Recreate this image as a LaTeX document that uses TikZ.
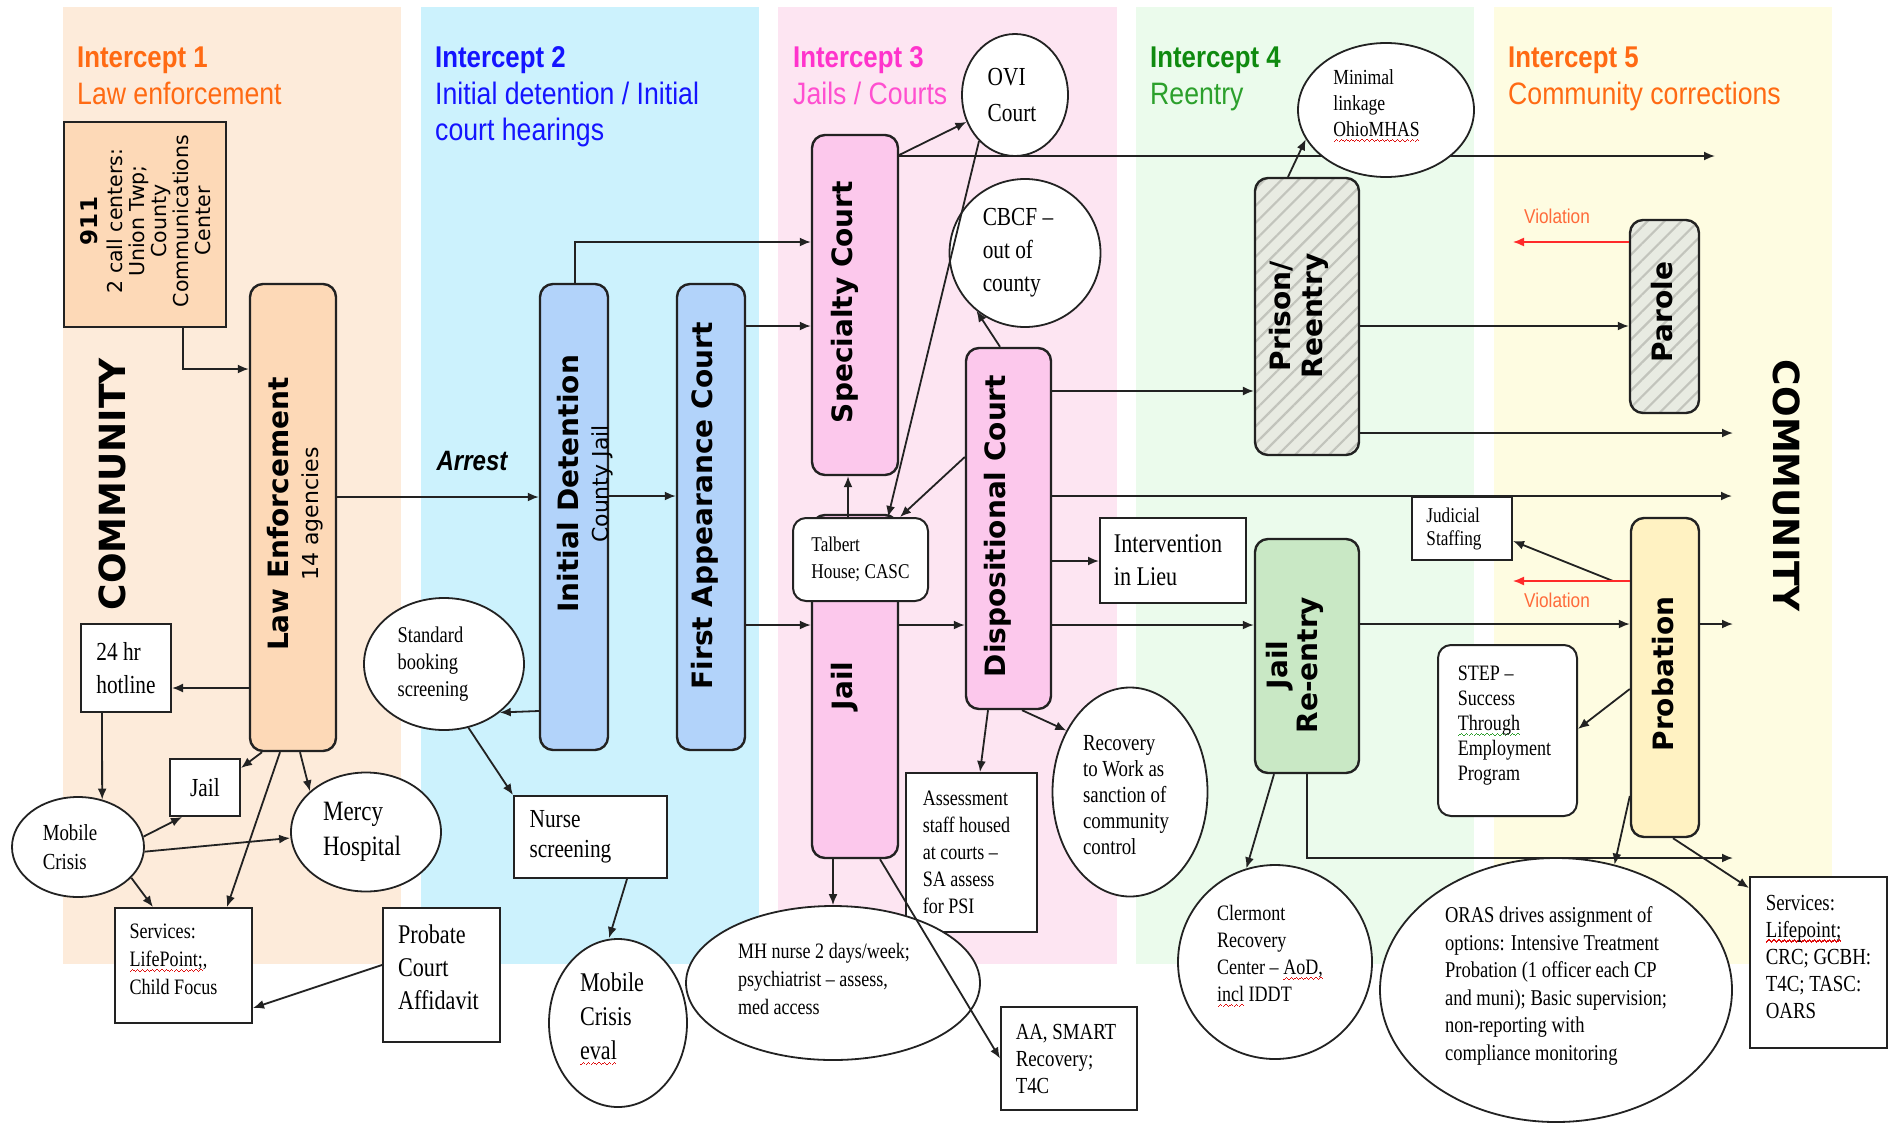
\documentclass[tikz,border=0pt]{standalone}
\usepackage{fontspec}
\usetikzlibrary{shapes.geometric,arrows.meta,patterns.meta}
\newfontfamily\srf{Liberation Serif}[FakeStretch=0.82]
\newfontfamily\hdr{Liberation Sans}[FakeStretch=0.86]
\newfontfamily\bxf{DejaVu Sans}
\pgfdeclarelayer{bg}
\pgfsetlayers{bg,main}

\definecolor{band1}{HTML}{FDEBDA}
\definecolor{band2}{HTML}{CCF2FD}
\definecolor{band3}{HTML}{FDE5F2}
\definecolor{band4}{HTML}{EBFBEC}
\definecolor{band5}{HTML}{FEFCE1}
\definecolor{peach}{HTML}{FDD9B7}
\definecolor{bluebox}{HTML}{B2D3FA}
\definecolor{pinkbox}{HTML}{FCC8EC}
\definecolor{greenbox}{HTML}{C9E8C5}
\definecolor{yellowbox}{HTML}{FFF2C2}
\definecolor{hatchbg}{HTML}{E8EBE2}
\definecolor{hatchln}{HTML}{C2C4BC}
\definecolor{c1}{HTML}{FF6A13}
\definecolor{c2}{HTML}{1414FF}
\definecolor{c3}{HTML}{FF33CC}
\definecolor{c3b}{HTML}{FF4FD0}
\definecolor{c4}{HTML}{0F8A0F}
\definecolor{c4b}{HTML}{2CA02C}
\definecolor{violc}{HTML}{FF6A3A}
\definecolor{warnred}{HTML}{FF2A2A}
\definecolor{linec}{HTML}{222222}
\definecolor{spellred}{HTML}{E01010}
\definecolor{spellgreen}{HTML}{2E9E2E}

% wavy spell-check underline under a word, built from small rule steps
\newcommand\wavestep{\rule[0pt]{1.2pt}{1.2pt}\rule[1pt]{1.2pt}{1.2pt}\rule[2pt]{1.2pt}{1.2pt}\rule[1pt]{1.2pt}{1.2pt}}
\newcommand\wavy[2]{\setbox0\hbox{#2}\leavevmode\rlap{\raisebox{-5.5pt}{\color{#1}\hbox to\wd0{\xleaders\hbox{\wavestep}\hfill}}}\box0\relax}
\newcommand\redwave[1]{\wavy{spellred}{#1}}
\newcommand\greenwave[1]{\wavy{spellgreen}{#1}}

\tikzset{
  hd/.style={anchor=base west, inner sep=0},
  box/.style={draw=linec, line width=2pt, rectangle, inner sep=0, fill=white},
  rbox/.style={box, rounded corners=13pt, line width=2.4pt},
  bubble/.style={draw=linec, line width=1.8pt, ellipse, inner sep=0, fill=white},
  hatched/.style={preaction={fill=hatchbg}, pattern={Lines[angle=45,distance=12pt,line width=2.2pt]}, pattern color=hatchln},
  conn/.style={draw=linec, line width=1.8pt, -{Latex[length=11pt,width=9pt]}},
  warn/.style={draw=warnred, line width=1.4pt, -{Latex[length=11pt,width=9pt]}},
  ser/.style 2 args={align=left, inner sep=0, font=\srf\fontsize{#1}{#2}\selectfont},
  vt/.style={rotate=90, align=center, inner sep=0, font=\bxf\bfseries\fontsize{28}{30}\selectfont},
  t1/.style={hd, font=\hdr\bfseries\fontsize{30}{36}\selectfont},
  t2/.style={hd, font=\hdr\fontsize{31}{37}\selectfont},
}

\begin{document}
\begin{tikzpicture}[x=1pt,y=-1pt]
\useasboundingbox (0,0) rectangle (1895,1122);

% intercept bands
\begin{pgfonlayer}{bg}
\fill[white] (0,0) rectangle (1895,1122);
\fill[band1] (63,7) rectangle (401,964);
\fill[band2] (421,7) rectangle (759,964);
\fill[band3] (778,7) rectangle (1117,964);
\fill[band4] (1136,7) rectangle (1474,964);
\fill[band5] (1494,7) rectangle (1832,964);
\end{pgfonlayer}

% headings
\node[t1, text=c1] (h1) at (77,67) {Intercept 1};
\node[t2, text=c1] (s1) at (77,104) {Law enforcement};
\node[t1, text=c2] (h2) at (435,67) {Intercept 2};
\node[t2, text=c2] (s2) at (435,104) {Initial detention / Initial};
\node[t2, text=c2] (s2b) at (435,140) {court hearings};
\node[t1, text=c3] (h3) at (793,67) {Intercept 3};
\node[t2, text=c3b] (s3) at (793,104) {Jails / Courts};
\node[t1, text=c4] (h4) at (1150,67) {Intercept 4};
\node[t2, text=c4b] (s4) at (1150,104) {Reentry};
\node[t1, text=c1] (h5) at (1508,67) {Intercept 5};
\node[t2, text=c1] (s5) at (1508,104) {Community corrections};

% side labels
\node[rotate=90, inner sep=0, font=\bxf\bfseries\fontsize{36}{40}\selectfont] (commL) at (112,484) {COMMUNITY};
\node[rotate=-90, inner sep=0, font=\bxf\bfseries\fontsize{36}{40}\selectfont] (commR) at (1787,486) {COMMUNITY};

% ---- Intercept 1
\node[box, fill=peach, minimum width=162pt, minimum height=205pt] (call) at (145,224.5) {};
\node[rotate=90, align=center, inner sep=0, font=\bxf\fontsize{20.5}{22}\selectfont] (callT) at (146,221)
  {{\bfseries\fontsize{23}{26}\selectfont 911}\\[3pt]2 call centers:\\Union Twp;\\County\\Communications\\Center};
\node[rbox, fill=peach, minimum width=86pt, minimum height=467pt] (le) at (293,517.5) {};
\node[vt] (leT) at (295,514) {Law Enforcement\\{\mdseries\fontsize{22}{30}\selectfont 14 agencies}};
\node[box, minimum width=90pt, minimum height=88pt, label={[ser={26}{33}]center:{24 hr\\hotline}}] (hot) at (126,668) {};
\node[bubble, minimum width=132pt, minimum height=100pt, label={[ser={23}{29}, xshift=-8pt]center:{Mobile\\Crisis}}] (mc) at (78,847) {};
\node[box, minimum width=70pt, minimum height=57pt, label={[ser={26}{30}]center:{Jail}}] (jail1) at (205,787.5) {};
\node[bubble, minimum width=150pt, minimum height=119pt, label={[ser={28}{35}, xshift=-4pt]center:{Mercy\\Hospital}}] (mercy) at (366,832) {};
\node[box, minimum width=137pt, minimum height=115pt, label={[ser={22}{28}, xshift=-10pt, yshift=6pt]center:{Services:\\\redwave{LifePoint;}\greenwave{,}\\Child Focus}}] (svc1) at (183.5,965.5) {};
\node[box, minimum width=117pt, minimum height=134pt, label={[ser={27}{33}, xshift=-3pt, yshift=8pt]center:{Probate\\Court\\Affidavit}}] (probate) at (441.5,975) {};

% ---- Intercept 2
\node[inner sep=0, font=\hdr\bfseries\itshape\fontsize{28}{30}\selectfont] (arrest) at (472,461) {Arrest};
\node[rbox, fill=bluebox, minimum width=68pt, minimum height=466pt] (idet) at (574,517) {};
\node[vt] (idetT) at (585,484) {Initial Detention\\{\mdseries\fontsize{22}{30}\selectfont County Jail}};
\node[rbox, fill=bluebox, minimum width=68pt, minimum height=466pt] (fac) at (711,517) {};
\node[vt] (facT) at (705,506) {First Appearance Court};
\node[bubble, minimum width=160pt, minimum height=132pt, label={[ser={22.5}{27}, xshift=-11pt]center:{Standard\\booking\\screening}}] (sbs) at (444,664) {};
\node[box, minimum width=153pt, minimum height=82pt, label={[ser={26}{30}, xshift=-20pt]center:{Nurse\\screening}}] (nurse) at (590.5,837) {};
\node[bubble, minimum width=138pt, minimum height=168pt, label={[ser={27}{34}, xshift=-6pt, yshift=4pt]center:{Mobile\\Crisis\\\redwave{eval}}}] (mce) at (618,1023) {};

% ---- Intercept 3
\node[rbox, fill=pinkbox, minimum width=86pt, minimum height=340pt] (spec) at (855,305) {};
\node[vt] (specT) at (845,302) {Specialty Court};
\node[bubble, minimum width=106pt, minimum height=122pt, label={[ser={26}{36}, xshift=-3pt]center:{OVI\\Court}}] (ovi) at (1015,95) {};
\node[bubble, minimum width=151pt, minimum height=148pt, label={[ser={26}{33}, xshift=-7pt]center:{CBCF –\\out of\\county}}] (cbcf) at (1025,253) {};
\node[rbox, fill=pinkbox, minimum width=86pt, minimum height=343pt] (jail3) at (855,686.5) {};
\node[vt] (jail3T) at (845,686) {Jail};
\node[rbox, line width=2pt, minimum width=135pt, minimum height=83pt, label={[ser={21}{27}]center:{Talbert\\House; CASC}}] (talb) at (860.5,559.5) {};
\node[rbox, fill=pinkbox, minimum width=85pt, minimum height=361pt] (disp) at (1008.5,528.5) {};
\node[vt] (dispT) at (998,526) {Dispositional Court};
\node[box, minimum width=146pt, minimum height=85pt, label={[ser={27}{33}, xshift=-5pt]center:{Intervention\\in Lieu}}] (iil) at (1173,560.5) {};
\node[box, minimum width=131pt, minimum height=159pt, label={[ser={22}{27}, xshift=-5pt]center:{Assessment\\staff housed\\at courts –\\SA assess\\for PSI}}] (assess) at (971.5,852.5) {};
\node[bubble, minimum width=294pt, minimum height=154pt, label={[ser={22}{28}, xshift=-9pt, yshift=4pt]center:{MH nurse 2 days/week;\\psychiatrist – assess,\\med access}}] (mh) at (833,983) {};
\node[bubble, minimum width=155pt, minimum height=209pt, label={[ser={23}{26}, xshift=-4pt, yshift=-3pt]center:{Recovery\\to Work as\\sanction of\\community\\control}}] (rtw) at (1130,792) {};
\node[box, minimum width=136pt, minimum height=103pt, label={[ser={23}{27}, xshift=-3pt]center:{AA, SMART\\Recovery;\\T4C}}] (aa) at (1069,1058.5) {};

% ---- Intercept 4
\node[bubble, minimum width=176pt, minimum height=134pt, label={[ser={21.5}{26}, xshift=-9.5pt, yshift=4pt]center:{Minimal\\linkage\\\redwave{OhioMHAS}}}] (mini) at (1386,110) {};
\node[rbox, hatched, minimum width=104pt, minimum height=277pt] (prison) at (1307,316.5) {};
\node[vt, font=\bxf\bfseries\fontsize{28}{32}\selectfont] (prisonT) at (1299,316) {Prison/\\Reentry};
\node[box, minimum width=100pt, minimum height=63pt, label={[ser={21}{23}, xshift=-8pt]center:{Judicial\\Staffing}}] (jud) at (1462,528.5) {};
\node[rbox, fill=greenbox, minimum width=104pt, minimum height=234pt] (jre) at (1307,656) {};
\node[vt] (jreT) at (1295,665) {Jail\\Re-entry};
\node[bubble, minimum width=194pt, minimum height=194pt, label={[ser={22}{27}, xshift=-5pt, yshift=6pt]center:{Clermont\\Recovery\\Center – \redwave{AoD,}\\\redwave{incl} IDDT}}] (clm) at (1275,962) {};

% ---- Intercept 5
\node[rbox, line width=2pt, minimum width=139pt, minimum height=171pt, label={[ser={22}{25}, xshift=-3pt, yshift=5pt]center:{STEP –\\Success\\\greenwave{Through}\\Employment\\Program}}] (step) at (1507.5,730.5) {};
\node[bubble, minimum width=352pt, minimum height=264pt, label={[ser={22.6}{27.5}, yshift=4pt]center:{ORAS drives assignment of\\options: Intensive Treatment\\Probation (1 officer each CP\\and muni); Basic supervision;\\non-reporting with\\compliance monitoring}}] (oras) at (1556,990) {};
\node[rbox, hatched, minimum width=69pt, minimum height=193pt] (parole) at (1664.5,316.5) {};
\node[vt] (paroleT) at (1662,312) {Parole};
\node[rbox, fill=yellowbox, minimum width=68pt, minimum height=319pt] (prob) at (1665,677.5) {};
\node[vt] (probT) at (1663,674) {Probation};
\node[box, minimum width=137pt, minimum height=171pt, label={[ser={23}{27}, yshift=6pt]center:{Services:\\\redwave{Lifepoint;}\\CRC; GCBH:\\T4C; TASC:\\OARS}}] (svc5) at (1818.5,962.5) {};
\node[inner sep=0, text=violc, font=\hdr\fontsize{20}{22}\selectfont] (viol1) at (1557,216) {Violation};
\node[inner sep=0, text=violc, font=\hdr\fontsize{20}{22}\selectfont] (viol2) at (1557,600) {Violation};

% free ends of the flows back into the community
\coordinate (out1) at (1715,156);
\coordinate (out2) at (1732,496);
\coordinate (out3) at (1733,433);
\coordinate (out4) at (1733,858);
\coordinate (out5) at (1733,624);
\coordinate (back1) at (1513,242);
\coordinate (back2) at (1513,581);
\coordinate (vfork) at (1613,581);

% long specialty-court line runs beneath the linkage bubble
\begin{pgfonlayer}{bg}
\draw[conn] (spec.east |- 0,156) -- (out1);
\end{pgfonlayer}

% ---- connectors, intercept 1
\draw[conn] (call.south -| 183,0) |- (le.west |- 0,369);
\draw[conn] (le.west |- 0,688) -- (hot.east |- 0,688);
\draw[conn] (hot.south -| 102,0) -- (mc.63);
\draw[conn] (le.south -| 262,0) -- (jail1.east |- 0,768);
\draw[conn] (le.south -| 280,0) -- (svc1.north -| 227,0);
\draw[conn] (le.south -| 300,0) -- (mercy.144);
\draw[conn] (mc.9) -- (jail1.south -| 182,0);
\draw[conn] (mc.-4) -- (mercy.west |- 0,838);
\draw[conn] (mc.-30) -- (svc1.north -| 153,0);
\draw[conn] (probate.west |- 0,965) -- (svc1.east |- 0,1008);

% ---- intercept 2
\draw[conn] (le.east |- 0,497) -- (idet.west |- 0,497);
\draw[conn] (idet.east |- 0,496) -- (fac.west |- 0,496);
\draw[conn] (idet.north -| 575,0) |- (spec.west |- 0,242);
\draw[conn] (fac.east |- 0,326) -- (spec.west |- 0,326);
\draw[conn] (fac.east |- 0,625) -- (jail3.west |- 0,625);
\draw[conn] (idet.west |- 0,711) -- (sbs.-41);
\draw[conn] (sbs.-69) -- (nurse.north west);
\draw[conn] (nurse.south -| 627,0) -- (mce.north -| 609,0);

% ---- intercept 3
\draw[conn] (spec.east |- 0,155) -- (ovi.209);
\draw[conn] (ovi.232) -- (talb.north -| 888,0);
\draw[conn] (disp.north -| 1000,0) -- (cbcf.230);
\draw[conn] (disp.west |- 0,457) -- (talb.north -| 900,0);
\draw[conn] (talb.north -| 848,0) -- (spec.south -| 848,0);
\draw[conn] (jail3.east |- 0,625) -- (disp.west |- 0,625);
\draw[conn] (disp.east |- 0,561) -- (iil.west |- 0,561);
\draw[conn] (disp.east |- 0,391) -- (prison.west |- 0,391);
\draw[conn] (disp.east |- 0,496) -- (out2);
\draw[conn] (disp.east |- 0,625) -- (jre.west |- 0,625);
\draw[conn] (jail3.south -| 833,0) -- (mh.north -| 833,0);
\draw[conn] (jail3.south -| 880,0) -- (aa.west);
\draw[conn] (disp.south -| 988,0) -- (assess.north -| 980,0);
\draw[conn] (disp.south -| 1022,0) -- (rtw.136);

% ---- intercept 4
\draw[conn] (prison.north -| 1288,0) -- (mini.200);
\draw[conn] (prison.east |- 0,326) -- (parole.west |- 0,326);
\draw[conn] (prison.east |- 0,433) -- (out3);
\draw[conn] (jre.east |- 0,624) -- (prob.west |- 0,624);
\draw[conn] (jre.south -| 1274,0) -- (clm.107);
\draw[conn] (jre.south -| 1307,0) |- (out4);

% ---- intercept 5
\draw[conn] (prob.east |- 0,624) -- (out5);
\draw[conn] (prob.west |- 0,689) -- (step.east |- 0,729);
\draw[conn] (prob.west |- 0,796) -- (oras.65);
\draw[conn] (prob.south -| 1673,0) -- (svc5.west |- 0,888);
\draw[conn] (vfork) -- (jud.east |- 0,541);
\draw[warn] (parole.west |- 0,242) -- (back1);
\draw[warn] (prob.west |- 0,581) -- (back2);
\end{tikzpicture}
\end{document}
